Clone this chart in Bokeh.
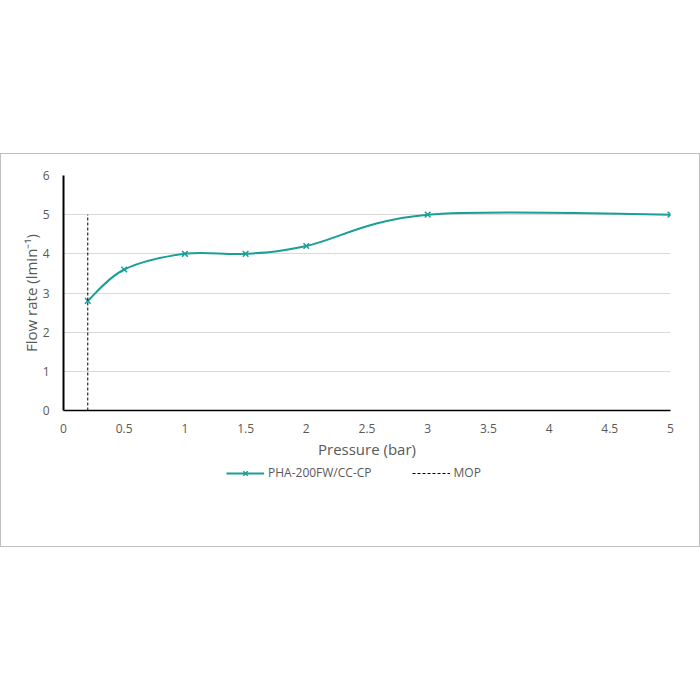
from bokeh.plotting import figure
from bokeh.models import (FixedTicker, Legend, LegendItem, ColumnDataSource, Range1d)
from bokeh.layouts import column
from bokeh.embed import file_html
from bokeh.resources import INLINE

# ---- data ----
pressure = [0.2, 0.5, 1.0, 1.5, 2.0, 3.0, 5.0]
flow_rate = [2.8, 3.6, 4.0, 4.0, 4.2, 5.0, 5.0]
series_name = "PHA-200FW/CC-CP"
mop_x = [0.2, 0.2]
mop_y = [0.0, 5.0]
mop_name = "MOP"
x_ticks = [0, 0.5, 1, 1.5, 2, 2.5, 3, 3.5, 4, 4.5, 5]
x_tick_labels = ["0", "0.5", "1", "1.5", "2", "2.5", "3", "3.5", "4", "4.5", "5"]
y_ticks = [0, 1, 2, 3, 4, 5, 6]
x_title = "Pressure (bar)"
y_title = "Flow rate (lmin\u207b\u00b9)"

TEAL = "#1a9e98"
FONT = "Open Sans"
GREY = "#595959"

# smoothed (Excel-like) bezier segments computed from the data
n = len(pressure)
seg = dict(x0=[], y0=[], x1=[], y1=[], cx0=[], cy0=[], cx1=[], cy1=[])
for i in range(n - 1):
    p0 = i - 1 if i > 0 else i
    p3 = i + 2 if i + 2 < n else i + 1
    seg["x0"].append(pressure[i]); seg["y0"].append(flow_rate[i])
    seg["x1"].append(pressure[i + 1]); seg["y1"].append(flow_rate[i + 1])
    seg["cx0"].append(pressure[i] + (pressure[i + 1] - pressure[p0]) / 6)
    seg["cy0"].append(flow_rate[i] + (flow_rate[i + 1] - flow_rate[p0]) / 6)
    seg["cx1"].append(pressure[i + 1] - (pressure[p3] - pressure[i]) / 6)
    seg["cy1"].append(flow_rate[i + 1] - (flow_rate[p3] - flow_rate[i]) / 6)

p = figure(width=698, height=307, output_backend="svg", toolbar_location=None,
           x_range=Range1d(0, 5), y_range=Range1d(0, 6),
           min_border_left=62, min_border_right=29, min_border_top=21,
           min_border_bottom=51)
p.outline_line_color = None
p.xgrid.grid_line_color = None
p.ygrid.grid_line_color = "#d9d9d9"
p.ygrid.grid_line_width = 1

p.bezier(x0="x0", y0="y0", x1="x1", y1="y1", cx0="cx0", cy0="cy0",
         cx1="cx1", cy1="cy1", source=ColumnDataSource(seg),
         line_color=TEAL, line_width=2)
p.scatter(pressure, flow_rate, marker="x", size=8, line_color=TEAL, line_width=1.5)
p.line(mop_x, mop_y, line_color="black", line_width=1, line_dash="3 2")

for ax in (p.xaxis, p.yaxis):
    ax.major_tick_line_color = None
    ax.minor_tick_line_color = None
    ax.major_label_text_font = FONT
    ax.major_label_text_font_size = "12px"
    ax.major_label_text_color = GREY
    ax.axis_label_text_font = FONT
    ax.axis_label_text_font_size = "15px"
    ax.axis_label_text_color = GREY
    ax.axis_label_text_font_style = "normal"
    ax.axis_line_color = "black"

p.yaxis.axis_line_width = 2
p.xaxis.axis_line_width = 1.5
p.xaxis.ticker = FixedTicker(ticks=x_ticks)
p.xaxis.major_label_overrides = {t: l for t, l in zip(x_ticks, x_tick_labels)}
p.yaxis.ticker = FixedTicker(ticks=y_ticks)
p.xaxis.axis_label = x_title
p.yaxis.axis_label = y_title
p.xaxis.major_label_standoff = 7
p.yaxis.major_label_standoff = 8
p.xaxis.axis_label_standoff = 3
p.yaxis.axis_label_standoff = -1

# legend strip (separate canvas so nothing is clipped); frame aligns with main plot
lg = figure(width=698, height=85, output_backend="svg", toolbar_location=None,
            x_axis_type=None, y_axis_type=None, min_border=0,
            x_range=Range1d(0, 5), y_range=Range1d(0, 6))
lg.outline_line_color = None
lg.grid.visible = False
leg_line = lg.line(pressure, flow_rate, line_color=TEAL, line_width=2, visible=False)
leg_mark = lg.scatter(pressure, flow_rate, marker="x", size=7, line_color=TEAL,
                      line_width=1.5, visible=False)
leg_mop = lg.line(mop_x, mop_y, line_color="black", line_width=1, line_dash="3 2",
                  visible=False)
legend = Legend(items=[LegendItem(label=series_name, renderers=[leg_line, leg_mark]),
                       LegendItem(label=mop_name, renderers=[leg_mop])],
                orientation="horizontal", location=(163, 65),
                glyph_width=38, glyph_height=16, spacing=40, padding=0, margin=0,
                label_standoff=4,
                label_text_font=FONT, label_text_font_size="12px",
                label_text_color=GREY, border_line_color=None,
                background_fill_alpha=0)
lg.add_layout(legend, "center")

layout = column(p, lg, spacing=0, styles={"border": "1px solid #bfbfbf"},
                margin=(153, 0, 0, 0))
open("out.html", "w").write(file_html(layout, INLINE))
